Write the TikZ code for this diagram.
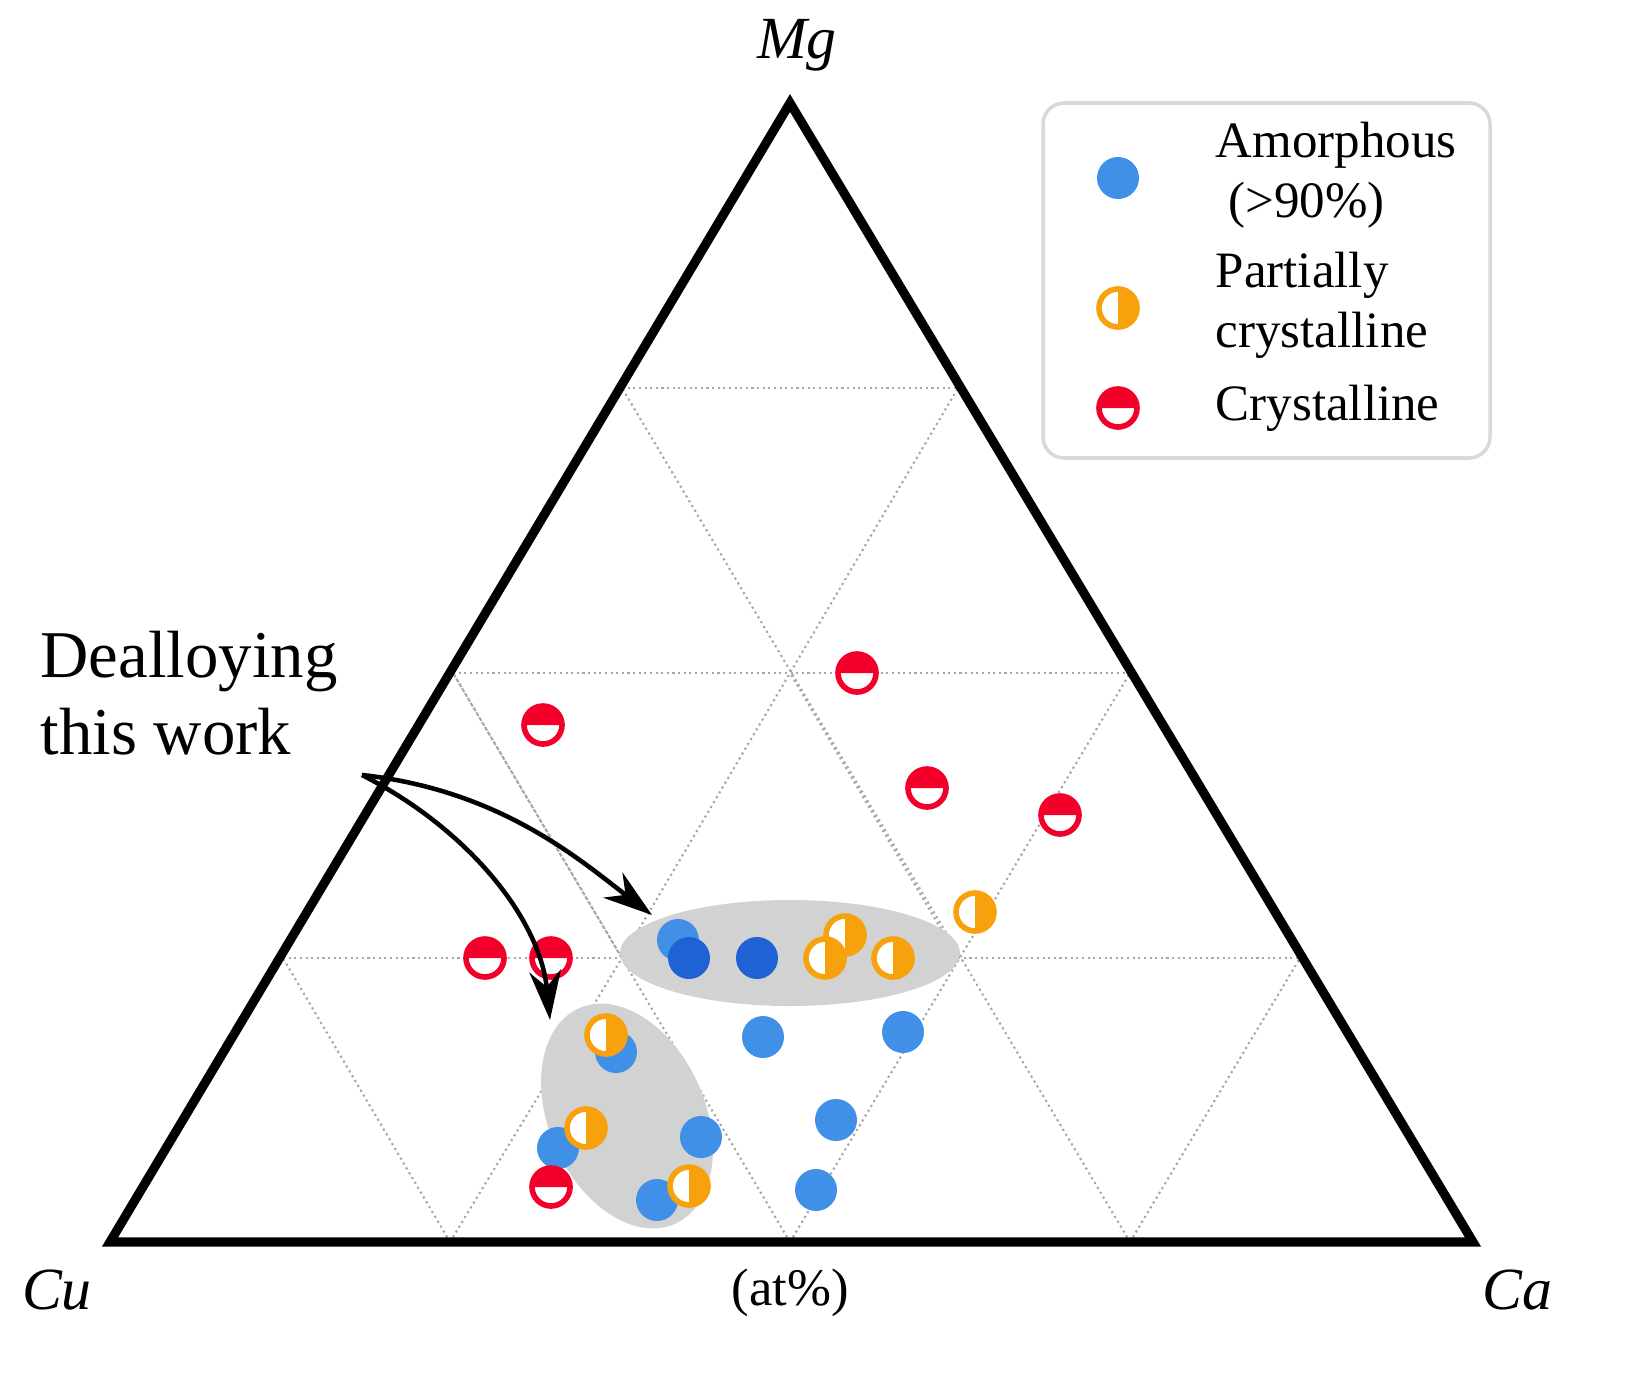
\documentclass[tikz,border=0pt]{standalone}
\usepackage{fontspec}
\setmainfont{Liberation Serif}
\usetikzlibrary{arrows.meta}
\definecolor{ablue}{HTML}{4090E8}
\definecolor{dblue}{HTML}{1E62D6}
\definecolor{aor}{HTML}{F7A20C}
\definecolor{ared}{HTML}{F2002A}
\tikzset{grid/.style={gray!70,densely dotted,line width=0.6pt},
 arr/.style={-{Stealth[length=14pt,width=9pt]},line width=1.3pt},
 lab/.style={font=\fontsize{17}{20}\selectfont\itshape,inner sep=0}}
\newcommand\amo[3][ablue]{\fill[#1] (#2,#3) circle (21);}
\newcommand\pcr[2]{\fill[white] (#1,#2) circle (19); \fill[aor] (#1,#2) ++(0,-19) arc(-90:90:19) -- cycle; \draw[aor,line width=1.6pt] (#1,#2) circle (19);}
\newcommand\ccr[2]{\fill[white] (#1,#2) circle (19); \fill[ared] (#1,#2) ++(-19,0) arc(180:360:19) -- cycle; \draw[ared,line width=1.6pt] (#1,#2) circle (19);}
\begin{document}
\begin{tikzpicture}[x=0.01cm,y=-0.01cm]
\useasboundingbox (0,0) rectangle (1628,1388);
% grid
\draw[grid] (622,388)--(958,388) (453,673)--(1130,673) (283,958)--(1300,958);
\draw[grid] (450,1242)--(622,958)--(958,388) (790,1242)--(453,673) (790,1242)--(1130,673);
\draw[grid] (450,1242)--(283,958) (1130,1242)--(1300,958) (1130,1242)--(622,388);
\draw[grid] (622,958)--(453,673) (958,958)--(790,673);
% ellipses
\fill[gray!35] (790,953) ellipse [x radius=170, y radius=53];
\fill[gray!35,rotate around={24:(627,1116)}] (627,1116) ellipse [x radius=78, y radius=118];
\draw[line width=2.6pt,line join=miter] (110,1242) coordinate (Cu) -- (1473,1242) coordinate (Ca) -- (790,103) coordinate (Mg) -- cycle;
\node[lab] (mg) at (797,45) {Mg};
\node[lab] (cu) at (57,1290) {Cu};
\node[lab] (ca) at (1517,1290) {Ca};
\node[inner sep=0,font=\fontsize{15}{18}\selectfont] (at) at (790,1293) {(at\%)};
% points
\amo{678}{940}\amo[dblue]{689}{958}\amo[dblue]{757}{958}\amo{763}{1037}\amo{903}{1032}
\amo{616}{1052}\amo{836}{1120}\amo{701}{1137}\amo{558}{1148}\amo{657}{1200}\amo{816}{1190}
\pcr{975}{912}\pcr{845}{935}\pcr{825}{958}\pcr{893}{958}\pcr{606}{1035}\pcr{586}{1128}\pcr{689}{1186}
\ccr{857}{673}\ccr{543}{725}\ccr{927}{788}\ccr{1060}{815}\ccr{485}{958}\ccr{551}{958}\ccr{551}{1187}
% label and arrows
\node[align=left,anchor=north west,inner sep=0,font=\fontsize{19}{22}\selectfont] (deal) at (40,630) {Dealloying\\this work};
\coordinate (s) at (362,775);
\coordinate (e1) at (652,915);
\coordinate (e2) at (550,1020);
\draw[arr] (s) .. controls (500,790) and (580,860) .. (e1);
\draw[arr] (s) .. controls (470,830) and (540,920) .. (e2);
% legend
\draw[gray!30,line width=1pt,rounded corners=6] (1043,103) rectangle (1490,458);
\amo{1118}{178}
\pcr{1118}{308}
\ccr{1118}{408}
\node[anchor=west,align=left,inner sep=0,font=\fontsize{14.5}{17}\selectfont] (l1) at (1215,175) {Amorphous\\\ (>90\%)};
\node[anchor=west,align=left,inner sep=0,font=\fontsize{14.5}{17}\selectfont] (l2) at (1215,305) {Partially\\crystalline};
\node[anchor=west,inner sep=0,font=\fontsize{14.5}{17}\selectfont] (l3) at (1215,408) {Crystalline};
\end{tikzpicture}
\end{document}
